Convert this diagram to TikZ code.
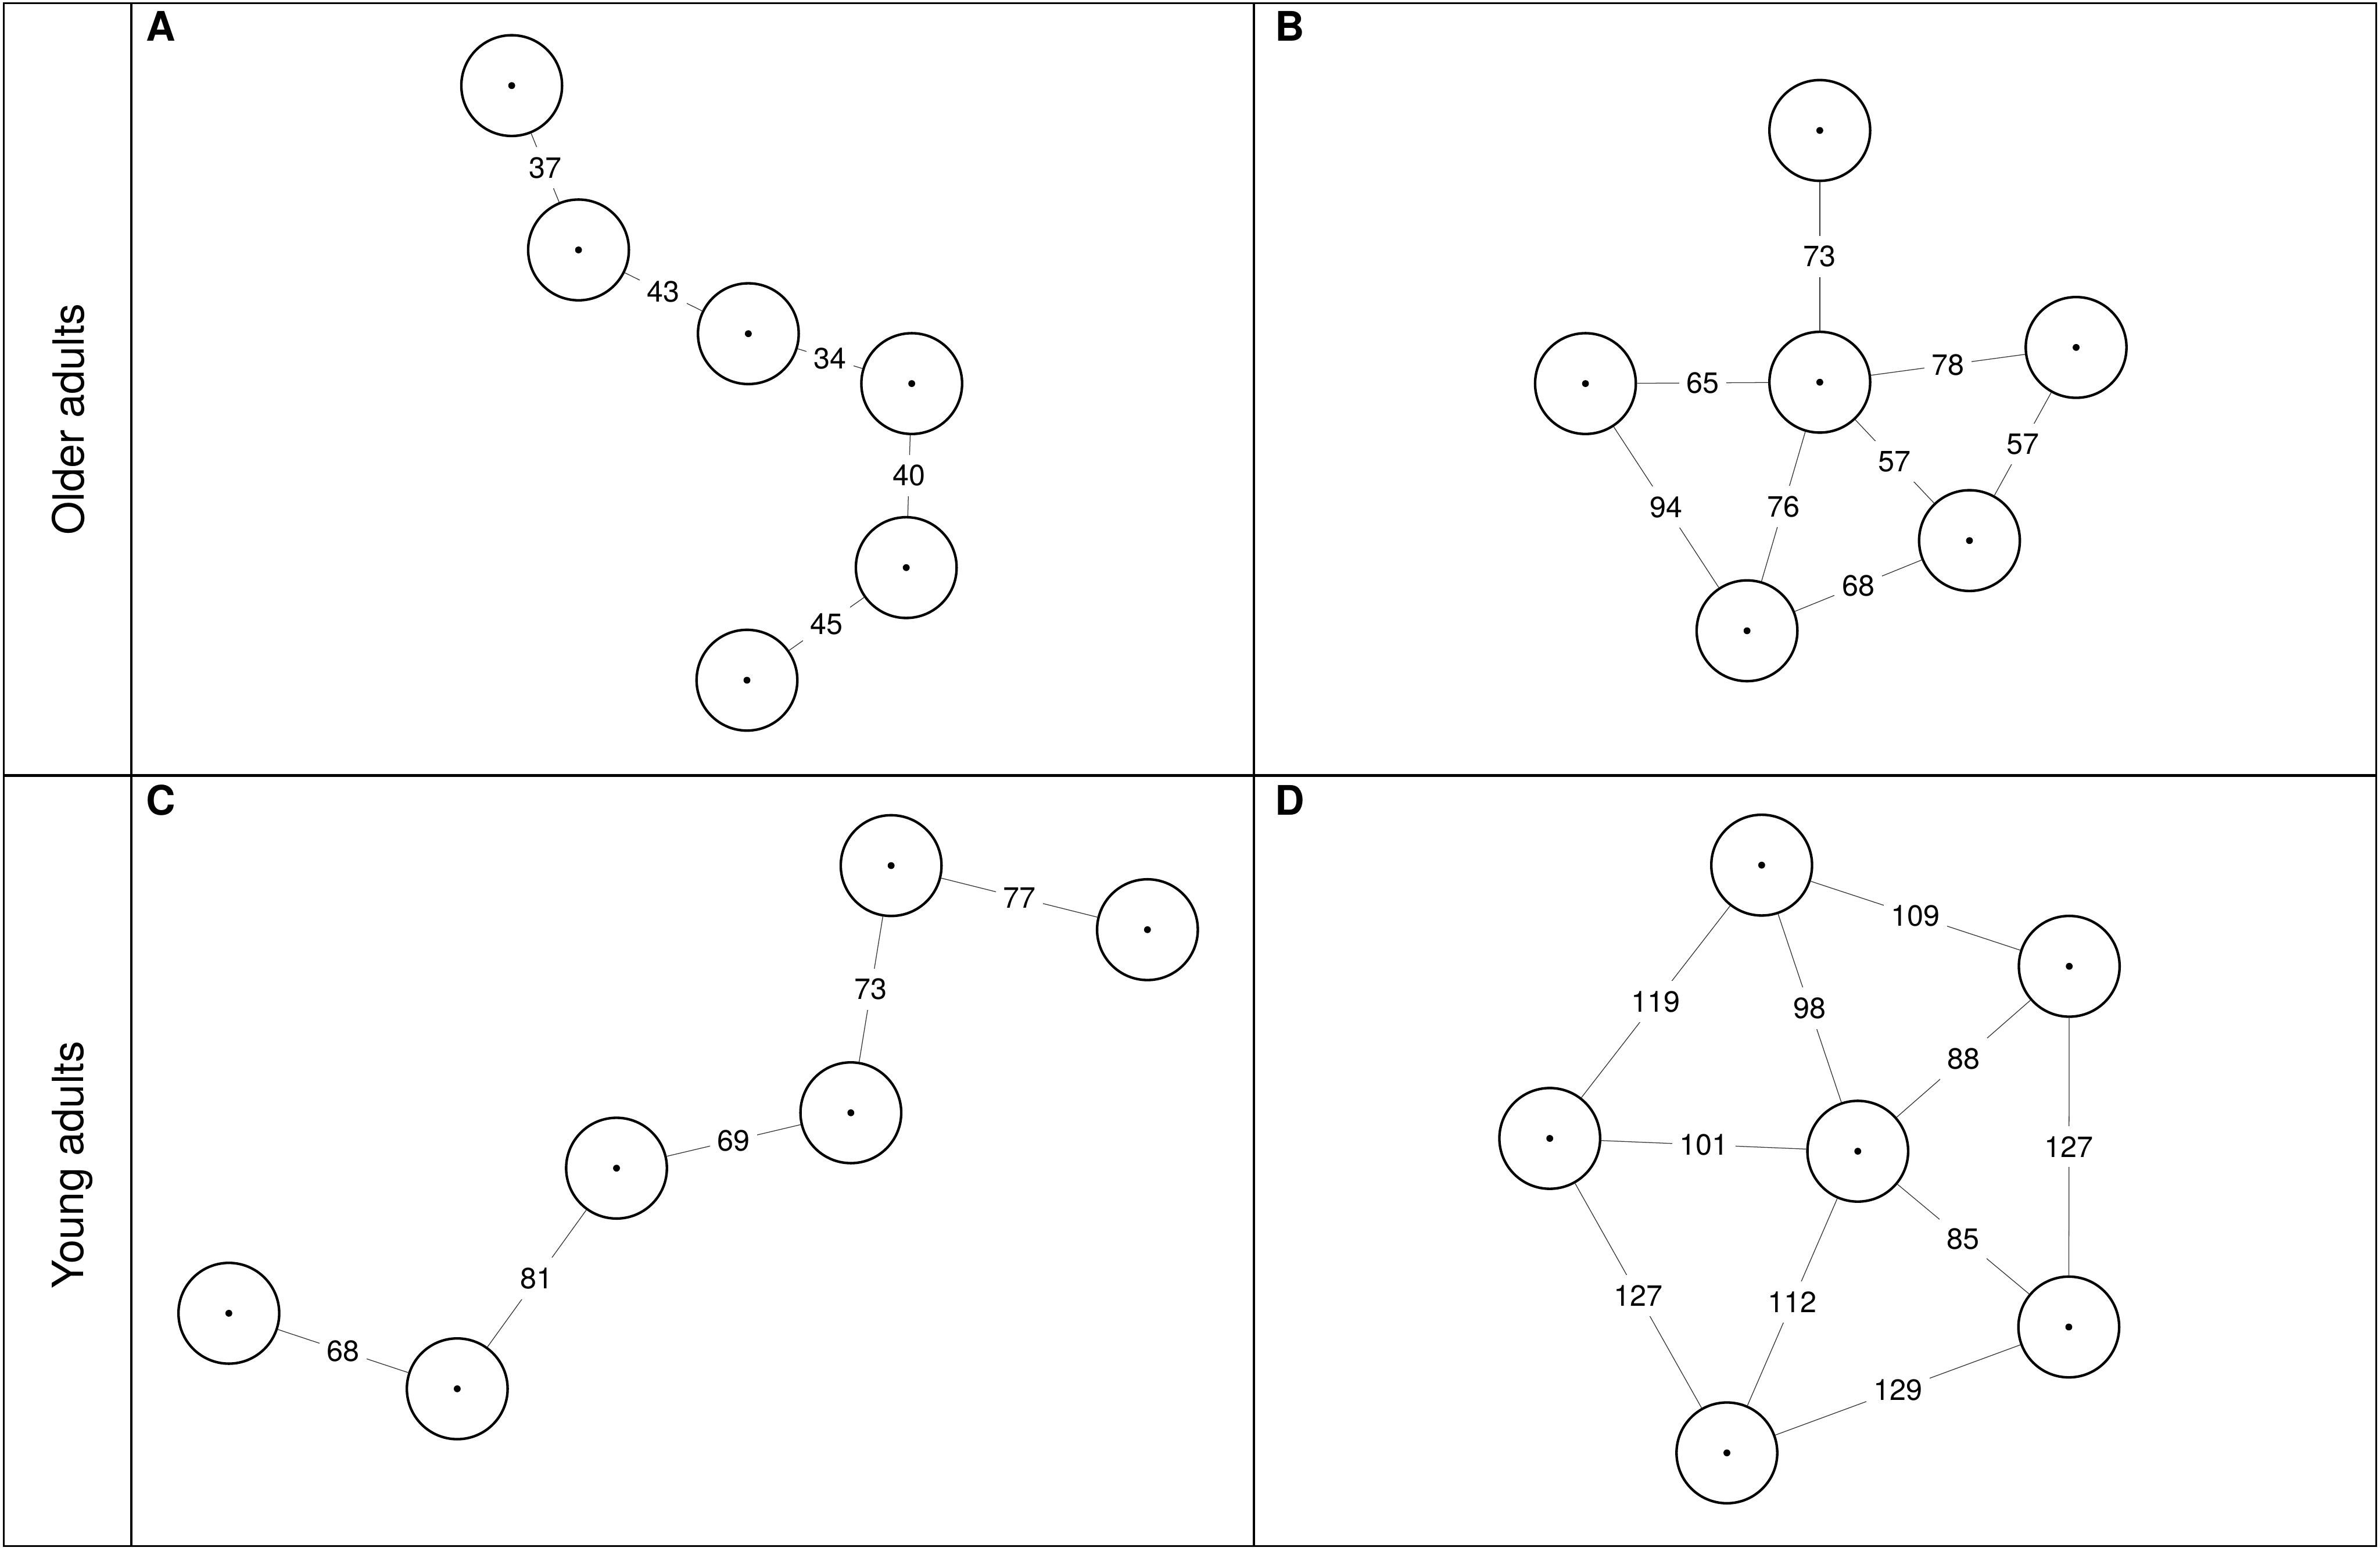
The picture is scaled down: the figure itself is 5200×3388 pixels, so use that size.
\documentclass[tikz,border=0pt]{standalone}
\usepackage{fontspec}
\setmainfont{TeX Gyre Heros}
\begin{document}
\begin{tikzpicture}[x=0.01cm,y=-0.01cm,
  vtx/.style={circle, draw=black, line width=0.055cm, minimum size=2.2cm, inner sep=0pt,
    path picture={\fill[black] (path picture bounding box.center) circle (0.075cm);}},
  edge/.style={draw=black!80, line width=0.016cm},
  elab/.style={fill=white, inner xsep=0.16cm, inner ysep=0.22cm, font=\fontsize{18.2}{20}\selectfont},
  panel/.style={anchor=base west, inner sep=0pt, font=\fontsize{25.3}{28}\selectfont\bfseries},
  rowlab/.style={anchor=base, rotate=90, inner sep=0pt, font=\fontsize{26.7}{30}\selectfont},
  frameouter/.style={line width=0.035cm},
  framediv/.style={line width=0.055cm}]
\useasboundingbox (0,0) rectangle (5200,3388);
\fill[white] (0,0) rectangle (5200,3388);

% frame
\draw[frameouter] (8,7) rectangle (5192,3378);
\draw[framediv] (287,7) -- (287,3378);
\draw[framediv] (2740,7) -- (2740,3378);
\draw[framediv] (8,1694) -- (5192,1694);

% row and panel labels
\node[rowlab] (older) at (183,916) {Older adults};
\node[rowlab] (young) at (182,2545) {Young adults};
\node[panel] (pA) at (318,90) {A};
\node[panel] (pB) at (2785,90) {B};
\node[panel] (pC) at (318,1781) {C};
\node[panel] (pD) at (2785,1781) {D};

% Panel A
\node[vtx] (A1) at (1118,187) {};
\node[vtx] (A2) at (1264,546) {};
\node[vtx] (A3) at (1635,729) {};
\node[vtx] (A4) at (1992,838) {};
\node[vtx] (A5) at (1980,1240) {};
\node[vtx] (A6) at (1632,1486) {};
\draw[edge] (A1) -- node[elab] (lA12) {37} (A2);
\draw[edge] (A2) -- node[elab] (lA23) {43} (A3);
\draw[edge] (A3) -- node[elab] (lA34) {34} (A4);
\draw[edge] (A4) -- node[elab] (lA45) {40} (A5);
\draw[edge] (A5) -- node[elab] (lA56) {45} (A6);

% Panel B
\node[vtx] (B1) at (3976,285) {};
\node[vtx] (B2) at (3976,835) {};
\node[vtx] (B3) at (3464,838) {};
\node[vtx] (B4) at (4536,759) {};
\node[vtx] (B5) at (4303,1181) {};
\node[vtx] (B6) at (3817,1378) {};
\draw[edge] (B1) -- node[elab] (lB12) {73} (B2);
\draw[edge] (B3) -- node[elab] (lB32) {65} (B2);
\draw[edge] (B2) -- node[elab] (lB24) {78} (B4);
\draw[edge] (B2) -- node[elab] (lB25) {57} (B5);
\draw[edge] (B4) -- node[elab] (lB45) {57} (B5);
\draw[edge] (B3) -- node[elab] (lB36) {94} (B6);
\draw[edge] (B2) -- node[elab] (lB26) {76} (B6);
\draw[edge] (B6) -- node[elab] (lB65) {68} (B5);

% Panel C
\node[vtx] (C1) at (1947,1891) {};
\node[vtx] (C2) at (2507,2031) {};
\node[vtx] (C3) at (1859,2431) {};
\node[vtx] (C4) at (1347,2552) {};
\node[vtx] (C5) at (500,2869) {};
\node[vtx] (C6) at (999,3034) {};
\draw[edge] (C1) -- node[elab] (lC12) {77} (C2);
\draw[edge] (C1) -- node[elab] (lC13) {73} (C3);
\draw[edge] (C4) -- node[elab] (lC43) {69} (C3);
\draw[edge] (C6) -- node[elab] (lC64) {81} (C4);
\draw[edge] (C5) -- node[elab] (lC56) {68} (C6);

% Panel D
\node[vtx] (D1) at (3849,1890) {};
\node[vtx] (D2) at (4521,2111) {};
\node[vtx] (D3) at (3386,2487) {};
\node[vtx] (D4) at (4059,2515) {};
\node[vtx] (D5) at (4520,2899) {};
\node[vtx] (D6) at (3773,3174) {};
\draw[edge] (D1) -- node[elab] (lD12) {109} (D2);
\draw[edge] (D1) -- node[elab] (lD13) {119} (D3);
\draw[edge] (D1) -- node[elab] (lD14) {98} (D4);
\draw[edge] (D2) -- node[elab] (lD24) {88} (D4);
\draw[edge] (D2) -- node[elab] (lD25) {127} (D5);
\draw[edge] (D3) -- node[elab] (lD34) {101} (D4);
\draw[edge] (D4) -- node[elab] (lD45) {85} (D5);
\draw[edge] (D3) -- node[elab] (lD36) {127} (D6);
\draw[edge] (D4) -- node[elab] (lD46) {112} (D6);
\draw[edge] (D6) -- node[elab] (lD65) {129} (D5);
\end{tikzpicture}
\end{document}
